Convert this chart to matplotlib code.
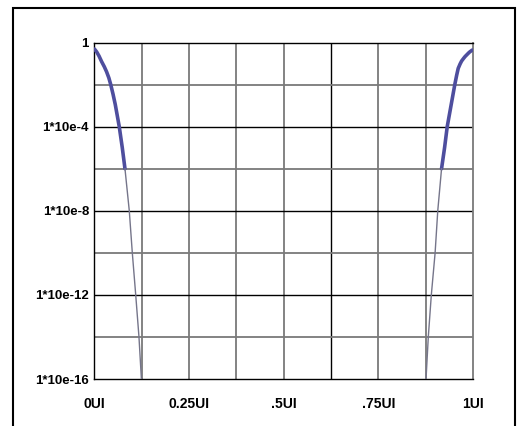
import matplotlib.pyplot as plt
import numpy as np
from matplotlib.patches import Rectangle

plt.rcParams['font.family'] = ['Liberation Sans', 'DejaVu Sans']

# 軸の目盛り
x_ticks = [0, 0.25, 0.5, 0.75, 1]
x_labels = ["0UI", "0.25UI", ".5UI", ".75UI", "1UI"]
y_ticks = [1, 1e-4, 1e-8, 1e-12, 1e-16]
y_labels = ["1", "1*10e-4", "1*10e-8", "1*10e-12", "1*10e-16"]

# 左側の曲線 (太い部分と細い部分), yはlog10の値
left_x_thick = [0, 0.006, 0.012, 0.019, 0.026, 0.032, 0.038, 0.043, 0.049, 0.055, 0.060, 0.0655, 0.0735, 0.0806]
left_log_thick = [-0.31, -0.45, -0.64, -0.91, -1.15, -1.39, -1.68, -2.0, -2.45, -2.95, -3.45, -4.0, -5.0, -6.0]
left_x_thin = [0.0806, 0.092, 0.100, 0.109, 0.1176, 0.124]
left_log_thin = [-6.0, -8.0, -10.0, -12.0, -14.0, -16.0]

# 右側の曲線
right_x_thick = [0.917, 0.925, 0.932, 0.938, 0.943, 0.948, 0.952, 0.957, 0.961, 0.966, 0.970, 0.975, 0.979, 0.985, 0.990, 0.995, 0.998]
right_log_thick = [-6.0, -5.0, -4.0, -3.4, -2.9, -2.4, -2.0, -1.55, -1.23, -1.02, -0.88, -0.76, -0.67, -0.56, -0.47, -0.40, -0.36]
right_x_thin = [0.876, 0.882, 0.890, 0.900, 0.907, 0.917]
right_log_thin = [-16.0, -14.0, -12.0, -10.0, -8.0, -6.0]

fig = plt.figure(figsize=(5.19, 4.26), dpi=100)
ax = fig.add_axes([0.182, 0.1103, 0.7293, 0.7899])

# グリッド
for i, gx in enumerate(np.arange(1, 8) / 8):
    c = "black" if i == 4 else "#7a7a7a"
    ax.axvline(gx, color=c, lw=1.0 if c == "black" else 1.3, zorder=1)
for d in range(-14, 0, 2):
    c = "black" if d % 4 == 0 else "#7a7a7a"
    ax.axhline(10.0 ** d, color=c, lw=1.0 if c == "black" else 1.3, zorder=1)

blue = "#4e4e9e"
thin = "#75758a"
ax.plot(left_x_thick, 10.0 ** np.array(left_log_thick), color=blue, lw=2.6, zorder=3, solid_capstyle="round")
ax.plot(left_x_thin, 10.0 ** np.array(left_log_thin), color=thin, lw=1.0, zorder=3)
ax.plot(right_x_thick, 10.0 ** np.array(right_log_thick), color=blue, lw=2.6, zorder=3, solid_capstyle="round")
ax.plot(right_x_thin, 10.0 ** np.array(right_log_thin), color=thin, lw=1.0, zorder=3)

ax.set_yscale("log")
ax.set_xlim(0, 1)
ax.set_ylim(1e-16, 1)
ax.set_xticks(x_ticks)
ax.set_xticklabels(x_labels, fontsize=10, fontweight="bold")
ax.set_yticks(y_ticks)
ax.set_yticklabels(y_labels, fontsize=9.5, fontweight="bold")
ax.minorticks_off()
ax.tick_params(length=0)
ax.tick_params(axis="x", pad=13)
ax.tick_params(axis="y", pad=4)
for s in ["left", "top", "bottom"]:
    ax.spines[s].set_color("black")
    ax.spines[s].set_linewidth(1.0)
ax.spines["right"].set_color("#7a7a7a")
ax.spines["right"].set_linewidth(1.3)

# 外枠
fig.patches.append(Rectangle((12.5 / 519, -0.05), 502 / 519, 1.05 - 8 / 426,
                             transform=fig.transFigure, fill=False,
                             edgecolor="black", lw=1.5))

plt.savefig("out.png", dpi=100)
